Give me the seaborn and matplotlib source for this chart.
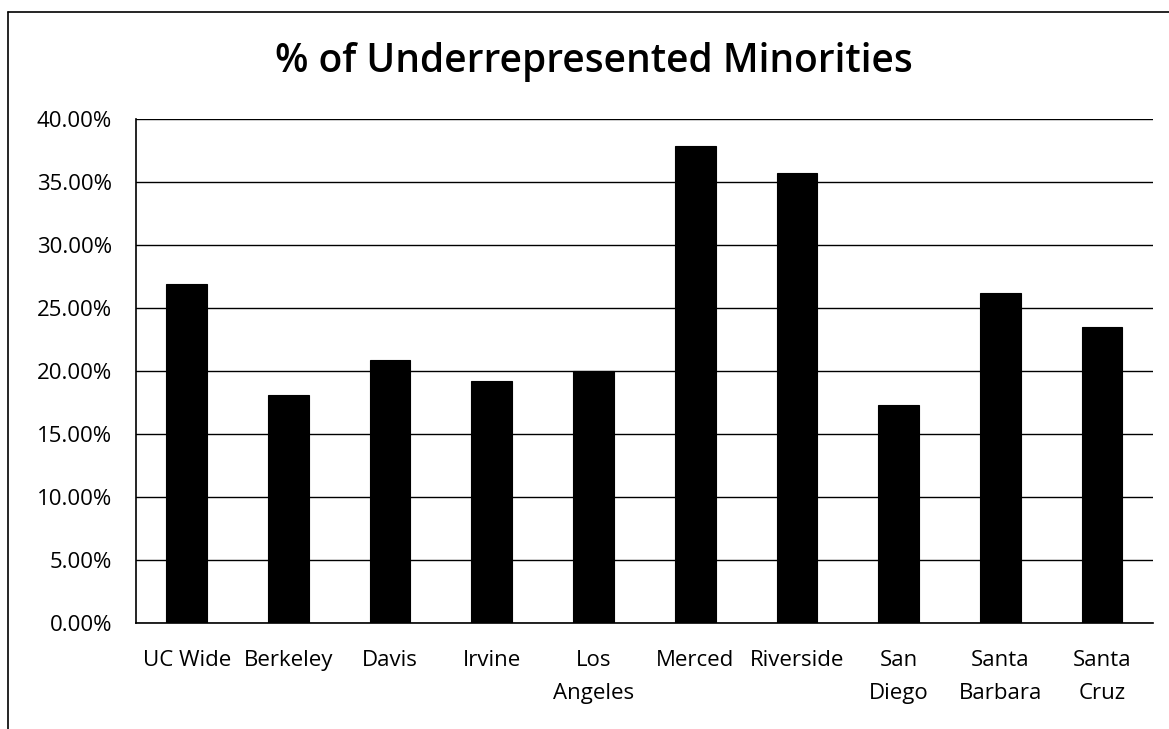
import matplotlib
matplotlib.use("Agg")
import matplotlib.pyplot as plt
import seaborn as sns
import pandas as pd
from matplotlib.ticker import FuncFormatter
from matplotlib.lines import Line2D

campuses = ["UC Wide", "Berkeley", "Davis", "Irvine", "Los\nAngeles", "Merced",
            "Riverside", "San\nDiego", "Santa\nBarbara", "Santa\nCruz"]
urm_pct = [26.9, 18.1, 20.9, 19.2, 20.0, 37.9, 35.7, 17.3, 26.2, 23.5]
title = "% of Underrepresented Minorities"

sns.set_theme(style="white")
plt.rcParams['font.family'] = ['Open Sans', 'DejaVu Sans']

df = pd.DataFrame({"campus": campuses, "pct": urm_pct})

fig = plt.figure(figsize=(11.69, 7.29), dpi=100)
ax = fig.add_axes([135.8/1169, 1 - 623.3/729, (1153-135.8)/1169, (623.3-119.3)/729])

sns.barplot(data=df, x="campus", y="pct", color="black", width=0.4,
            saturation=1, edgecolor="black", linewidth=0.8, ax=ax, zorder=3)
ax.set_ylim(0, 40)
ax.set_xlim(-0.5, len(campuses) - 0.5)
ax.set_yticks([0, 5, 10, 15, 20, 25, 30, 35, 40])
ax.yaxis.set_major_formatter(FuncFormatter(lambda v, p: f"{v:.2f}%"))
ax.grid(axis="y", color="black", linewidth=1.0, zorder=0)
ax.set_axisbelow(True)
for s in ["top", "right"]:
    ax.spines[s].set_visible(False)
ax.spines["left"].set_color("black")
ax.spines["bottom"].set_color("black")
ax.spines["left"].set_linewidth(1.2)
ax.spines["bottom"].set_linewidth(1.2)
ax.set_xlabel("")
ax.set_ylabel("")
ax.tick_params(axis="both", labelsize=16, colors="black", length=0)
ax.tick_params(axis="x", pad=19)
ax.tick_params(axis="y", pad=17)
for lbl in ax.get_xticklabels():
    lbl.set_linespacing(1.75)

fig.text(594/1169, 1 - 62/729, title, ha="center", va="center",
         fontsize=28, fontweight="semibold", color="black")

# chart-area border (left and top)
fig.add_artist(Line2D([7.5/1169, 7.5/1169], [0, 1 - 12/729], transform=fig.transFigure,
                      color="black", linewidth=1.2))
fig.add_artist(Line2D([7.5/1169, 1], [1 - 12/729, 1 - 12/729], transform=fig.transFigure,
                      color="black", linewidth=1.2))

fig.savefig("out.png", dpi=100)
